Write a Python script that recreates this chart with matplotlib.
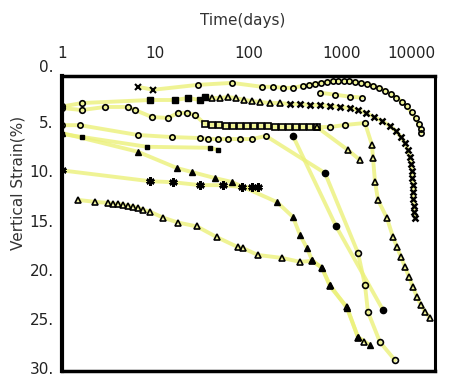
"""Vertical strain vs time (log) for several settlement records, scanned-chart style."""
import matplotlib
matplotlib.use("Agg")
import matplotlib.pyplot as plt
import matplotlib.transforms as mtransforms

# ---- data (time in days, vertical strain in %) ----
a_t = [6.5, 9.5, 28.7, 66.5, 140, 183, 235, 300, 384, 450, 520, 600, 700, 800,
       920, 1050, 1200, 1380, 1600, 1850, 2150, 2500, 2900, 3350, 3850, 4400,
       5000, 5600, 6200, 6700, 7000, 7100]
a_s = [1.1, 1.4, 0.9, 0.7, 1.1, 1.1, 1.2, 1.2, 1.0, 0.9, 0.8, 0.7, 0.6, 0.5,
       0.5, 0.5, 0.5, 0.6, 0.7, 0.8, 1.0, 1.2, 1.5, 1.8, 2.2, 2.6, 3.1, 3.7,
       4.3, 4.9, 5.4, 5.8]

a2_t = [585, 850, 1225, 1650]
a2_s = [1.7, 1.9, 2.1, 2.2]

b_t = [1.0, 1.64, 8.8, 16.3, 22.4, 30.2, 34.2, 40.6, 49.5, 60.3, 73.4, 89.5,
       109, 133, 170, 218, 279, 357, 457, 585, 748, 958, 1225, 1494, 1820,
       2218, 2702, 3290, 3818, 4318, 4770, 5135, 5400, 5530, 5665, 5665, 5805,
       5805, 5805, 5948, 5948, 6110]
b_s = [3.1, 2.75, 2.44, 2.44, 2.24, 2.44, 2.14, 2.24, 2.24, 2.14, 2.24, 2.44,
       2.54, 2.64, 2.75, 2.75, 2.85, 2.85, 2.95, 2.95, 3.05, 3.15, 3.26, 3.46,
       3.76, 4.17, 4.58, 5.09, 5.6, 6.21, 6.82, 7.53, 8.24, 8.95, 9.66, 10.4,
       11.1, 11.8, 12.5, 13.2, 13.8, 14.4]

c_t = [1.0, 1.64, 2.89, 5.1, 6.06, 9.2, 13.7, 17.5, 21.9, 26.7,
       34.2, 40.6, 48.3, 57.4, 68.2, 81, 96.4, 115, 136, 162, 192, 229, 272,
       323, 384, 457, 543,
       748, 1083, 1775,
       2110, 2163, 2275, 2449, 3055, 3545, 3910, 4318, 4770, 5265, 5805, 6400,
       7090, 7820, 8840]
c_s = [3.26, 3.46, 3.15, 3.15, 3.46, 4.17, 4.27, 3.76, 3.76, 3.97,
       4.88, 4.98, 4.98, 5.09, 5.09, 5.09, 5.09, 5.09, 5.09, 5.09, 5.19, 5.19,
       5.19, 5.19, 5.19, 5.19, 5.19,
       5.19, 4.98, 4.78,
       7.02, 8.34, 10.78, 12.61, 14.45, 16.38, 17.4, 18.41, 19.43, 20.45,
       21.46, 22.48, 23.3, 24.0, 24.6]

d_t = [1.0, 1.56, 6.5, 15.1, 30.2, 36.7, 47, 60.3, 81, 109, 154,
       661, 1494, 1775, 1910, 2570, 3725]
d_s = [5.0, 5.0, 6.0, 6.21, 6.31, 6.41, 6.41, 6.41, 6.41, 6.41, 6.1,
       9.87, 18.0, 21.26, 24.0, 27.06, 28.9]

e_t = [1.0, 1.64, 8.2, 38.6, 47]
e_s = [5.9, 6.2, 7.2, 7.3, 7.5]

f_t = [1.0, 6.5, 17.1, 24.8, 43.7, 66.5, 202, 300, 357, 424, 480, 614, 748,
       1138, 1494, 2010]
f_s = [5.8, 7.7, 9.36, 9.77, 10.38, 10.78, 12.82, 14.34, 16.17, 17.5, 18.72,
       19.53, 21.26, 23.6, 26.55, 27.37]

g_t = [1.0, 8.8, 15.5, 30.2, 53.1, 85, 109, 126]
g_s = [9.6, 10.7, 10.8, 11.1, 11.1, 11.3, 11.3, 11.3]

h_t = [1.48, 2.26, 3.1, 3.5, 4.0, 4.5, 5.1, 5.8, 6.5, 7.4, 8.8, 12.1, 17.5,
       28, 46, 77, 87, 126, 228, 357, 480, 614, 748, 1138, 1494, 1750]
h_s = [12.6, 12.8, 12.9, 13.0, 13.0, 13.1, 13.2, 13.3, 13.4, 13.6, 13.8, 14.4,
       14.9, 15.3, 16.4, 17.4, 17.5, 18.2, 18.5, 18.9, 18.8, 19.5, 21.4, 23.5,
       26.6, 27.0]

k_t = [300, 867, 2770]
k_s = [6.1, 15.26, 23.8]

m_t = [543, 1167, 1570]
m_s = [5.2, 7.53, 8.55]

x_ticks = [1, 10, 100, 1000, 10000]
x_labels = ["1", "10", "100", "1000", "10000"]
y_ticks = [0, 5, 10, 15, 20, 25, 30]
y_labels = ["0.", "5.", "10.", "15.", "20.", "25.", "30."]

YELLOW = "#ecf17a"
OPEN = dict(mfc="none", mec="black", mew=1.2)
FILLED = dict(mfc="black", mec="black", mew=1.0)


def draw(ax, t, s, segs):
    """Yellow connecting line, then black markers in index segments."""
    ax.plot(t, s, color=YELLOW, lw=2.8, alpha=0.8, solid_capstyle="round",
            zorder=1)
    for i0, i1, marker, ms, style in segs:
        ax.plot(t[i0:i1], s[i0:i1], ls="none", marker=marker, ms=ms,
                zorder=3, **style)


fig = plt.figure(figsize=(4.55, 3.77), dpi=100)
ax = fig.add_axes([62 / 455, 1 - 371 / 377, 373 / 455, 295 / 377])

draw(ax, a_t, a_s, [(0, 2, "x", 4, dict(color="black", mew=1.5)),
                    (2, None, "o", 3.8, OPEN)])
draw(ax, a2_t, a2_s, [(0, None, "o", 3.8, OPEN)])
draw(ax, b_t, b_s, [(0, 2, "o", 4, OPEN),
                    (2, 7, "s", 5, FILLED),
                    (7, 16, "^", 4.5, OPEN),
                    (16, None, "x", 4, dict(color="black", mew=1.8))])
draw(ax, c_t, c_s, [(0, 10, "o", 4, OPEN),
                    (10, 27, "s", 4.5, OPEN),
                    (27, 30, "o", 4, OPEN),
                    (30, None, "^", 4.5, OPEN)])
draw(ax, d_t, d_s, [(0, 11, "o", 3.8, OPEN),
                    (11, 12, "o", 4.5, FILLED),
                    (12, None, "o", 4.2, OPEN)])
draw(ax, e_t, e_s, [(0, None, "s", 3.5, FILLED)])
draw(ax, f_t, f_s, [(0, None, "^", 4, FILLED)])
draw(ax, g_t, g_s, [(0, None, (6, 2, 0), 6, dict(color="black", mew=1.8))])
draw(ax, h_t, h_s, [(0, None, "^", 5, OPEN)])
draw(ax, k_t, k_s, [(0, None, "o", 4.5, FILLED)])
draw(ax, m_t, m_s, [(0, None, "^", 5, OPEN)])

ax.set_xscale("log")
ax.set_xlim(1, 10000)
ax.set_ylim(30, 0)
ax.xaxis.tick_top()
ax.set_xticks(x_ticks)
ax.set_xticklabels(x_labels)
ax.minorticks_off()
ax.set_yticks(y_ticks)
ax.set_yticklabels(y_labels)
ax.tick_params(axis="x", length=0, pad=11, labelsize=11, labelcolor="#222")
ax.tick_params(axis="y", length=0, pad=6, labelsize=11, labelcolor="#222")
ax.get_xticklabels()[-1].set_ha("right")

# y labels in the scan sit a little above their ticks
for i, lab in enumerate(ax.get_yticklabels()):
    dy = 10 if i == 0 else 3
    lab.set_transform(lab.get_transform() + mtransforms.ScaledTranslation(
        0, dy / 100, fig.dpi_scale_trans))

for side, lw in [("left", 3.0), ("top", 2.5), ("right", 2.2), ("bottom", 2.5)]:
    ax.spines[side].set_linewidth(lw)
    ax.spines[side].set_color("black")

fig.text(243 / 455, 1 - 20 / 377, "Time(days)", ha="center", va="center",
         fontsize=11, color="#333")
fig.text(18 / 455, 1 - 183 / 377, "Vertical Strain(%)", ha="center",
         va="center", rotation=90, fontsize=11, color="#333")

fig.savefig("out.png", dpi=100)
